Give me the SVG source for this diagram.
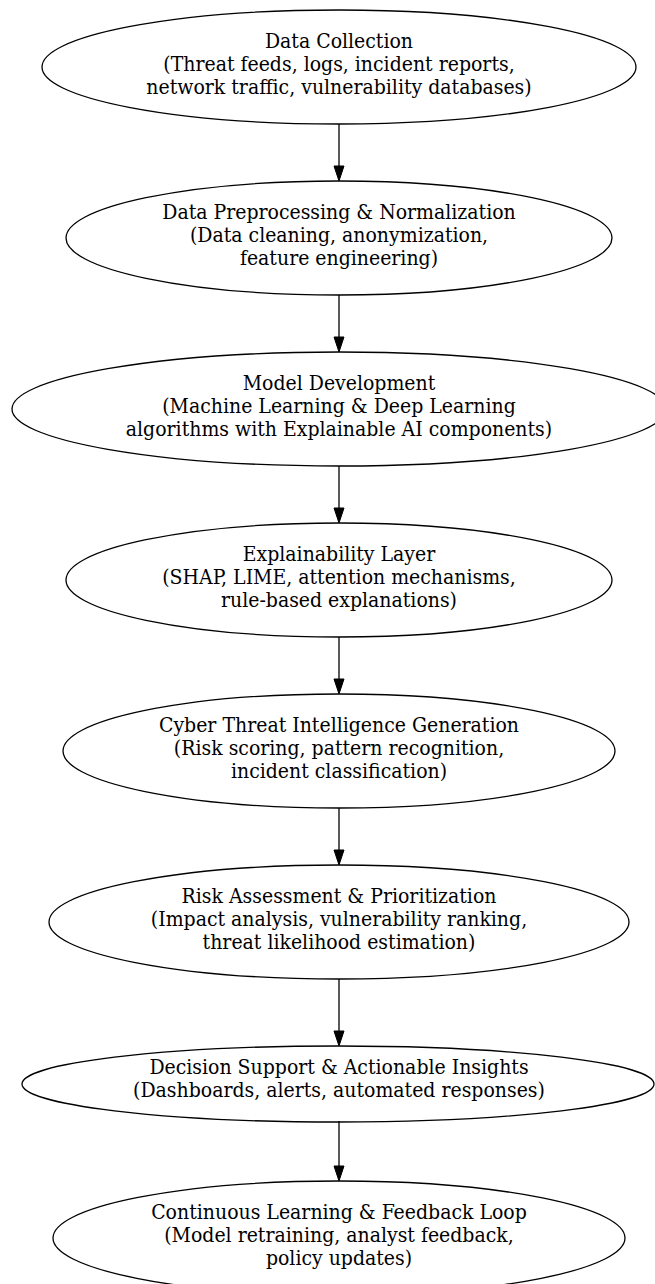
<svg xmlns="http://www.w3.org/2000/svg" width="655" height="1284" viewBox="0 0 655 1284">
<style>
.n ellipse{fill:none;stroke:#000;stroke-width:1.3}
.n text{font-family:"DejaVu Serif Condensed","DejaVu Serif",serif;font-size:21px;text-anchor:middle;fill:#000}
.e line{stroke:#000;stroke-width:1.3}
</style>
<rect width="655" height="1284" fill="#fff"/>
<g id="edges" class="e">
<line x1="339" y1="124" x2="339" y2="167"/>
<line x1="339" y1="295" x2="339" y2="338"/>
<line x1="339" y1="466" x2="339" y2="509"/>
<line x1="339" y1="637" x2="339" y2="680"/>
<line x1="339" y1="808" x2="339" y2="851"/>
<line x1="339" y1="979" x2="339" y2="1032"/>
<line x1="339" y1="1121" x2="339" y2="1167"/>
<g fill="#000" stroke="#000" stroke-width="1">
<path d="M334,166 L344,166 L339,181 Z"/>
<path d="M334,337 L344,337 L339,352 Z"/>
<path d="M334,508 L344,508 L339,523 Z"/>
<path d="M334,679 L344,679 L339,694 Z"/>
<path d="M334,850 L344,850 L339,865 Z"/>
<path d="M334,1031 L344,1031 L339,1046 Z"/>
<path d="M334,1166 L344,1166 L339,1181 Z"/>
</g>
</g>
<g id="n1" class="n">
<ellipse cx="339" cy="67" rx="297" ry="57"/>
<text x="339" y="48">Data Collection</text>
<text x="339" y="71">(Threat feeds, logs, incident reports,</text>
<text x="339" y="94">network traffic, vulnerability databases)</text>
</g>
<g id="n2" class="n">
<ellipse cx="339" cy="238" rx="273" ry="57"/>
<text x="339" y="219">Data Preprocessing &amp; Normalization</text>
<text x="339" y="242">(Data cleaning, anonymization,</text>
<text x="339" y="265">feature engineering)</text>
</g>
<g id="n3" class="n">
<ellipse cx="339" cy="409" rx="327" ry="57"/>
<text x="339" y="390">Model Development</text>
<text x="339" y="413">(Machine Learning &amp; Deep Learning</text>
<text x="339" y="436">algorithms with Explainable AI components)</text>
</g>
<g id="n4" class="n">
<ellipse cx="339" cy="580" rx="273" ry="57"/>
<text x="339" y="561">Explainability Layer</text>
<text x="339" y="584">(SHAP, LIME, attention mechanisms,</text>
<text x="339" y="607">rule-based explanations)</text>
</g>
<g id="n5" class="n">
<ellipse cx="339" cy="751" rx="276" ry="57"/>
<text x="339" y="732">Cyber Threat Intelligence Generation</text>
<text x="339" y="755">(Risk scoring, pattern recognition,</text>
<text x="339" y="778">incident classification)</text>
</g>
<g id="n6" class="n">
<ellipse cx="339" cy="922" rx="290" ry="57"/>
<text x="339" y="903">Risk Assessment &amp; Prioritization</text>
<text x="339" y="926">(Impact analysis, vulnerability ranking,</text>
<text x="339" y="949">threat likelihood estimation)</text>
</g>
<g id="n7" class="n">
<ellipse cx="338" cy="1084" rx="316" ry="38"/>
<text x="339" y="1074">Decision Support &amp; Actionable Insights</text>
<text x="339" y="1097">(Dashboards, alerts, automated responses)</text>
</g>
<g id="n8" class="n">
<ellipse cx="339" cy="1238" rx="286" ry="57"/>
<text x="339" y="1219">Continuous Learning &amp; Feedback Loop</text>
<text x="339" y="1242">(Model retraining, analyst feedback,</text>
<text x="339" y="1265">policy updates)</text>
</g>
</svg>
